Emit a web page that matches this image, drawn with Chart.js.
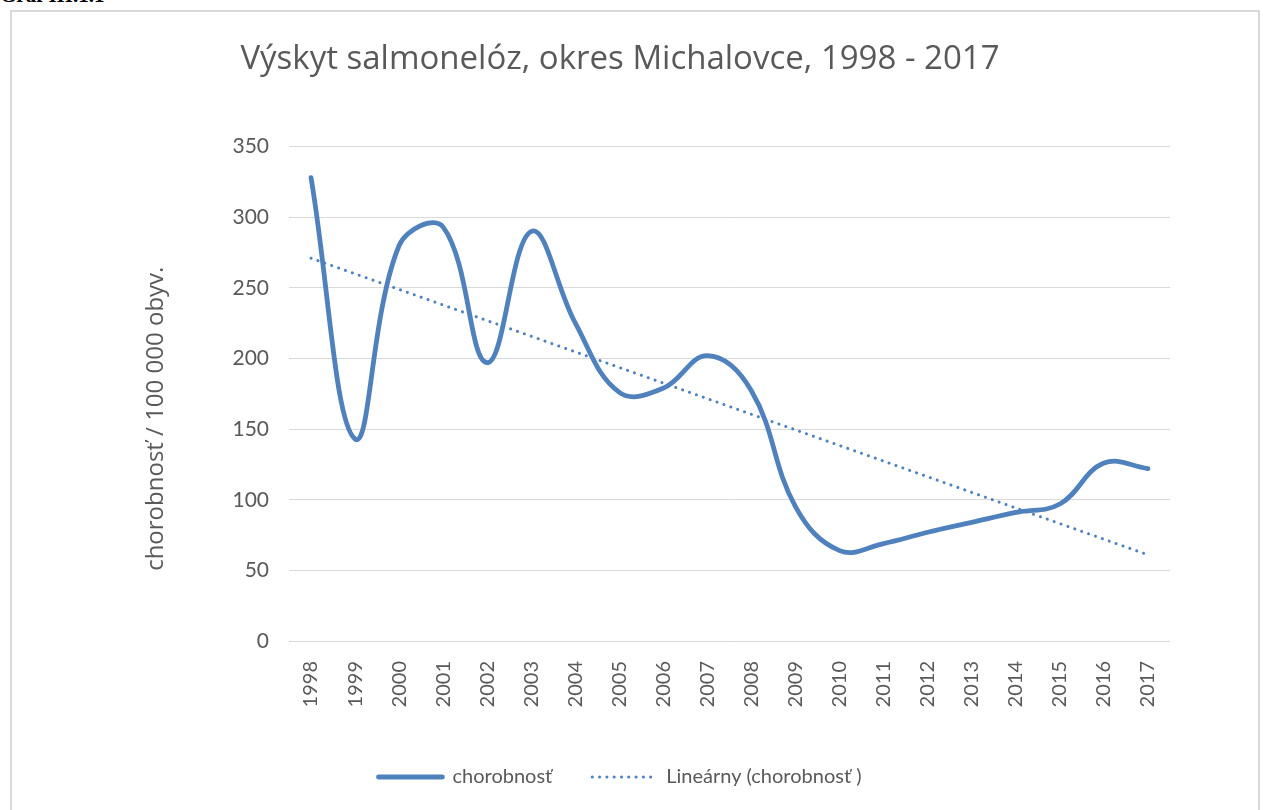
<!DOCTYPE html>
<html>
<head>
<meta charset="utf-8">
<script src="https://cdn.jsdelivr.net/npm/chart.js@4/dist/chart.umd.min.js"></script>
<style>
  html, body { margin: 0; padding: 0; background: #fff; width: 1263px; height: 810px; overflow: hidden; }
  #caption { position: absolute; left: 0; top: -15px; font: bold 21px "Liberation Serif", "Times New Roman", serif; line-height: 1; color: #000; }
  #frame { position: absolute; left: 10px; top: 10px; width: 1250px; height: 820px; border: 2px solid #d9d9d9; box-sizing: border-box; }
  #wrap { position: absolute; left: 11px; top: 11px; width: 1218px; height: 799px; }
</style>
</head>
<body>
<div id="caption">Graf III.1.1</div>
<div id="frame"></div>
<div id="wrap"><canvas id="c"></canvas></div>
<script>
const years = ['1998','1999','2000','2001','2002','2003','2004','2005','2006','2007','2008','2009','2010','2011','2012','2013','2014','2015','2016','2017'];
const chorobnost = [328, 143, 280, 293, 197, 290, 225, 176, 179, 202, 177, 95, 64, 69, 77, 84, 91, 97, 126, 122];
const trend = [271, null, null, null, null, null, null, null, null, null, null, null, null, null, null, null, null, null, null, 61];
const yTicks = [0, 50, 100, 150, 200, 250, 300, 350];
const titleText = 'Výskyt salmonelóz, okres Michalovce, 1998 - 2017';
const yTitle = 'chorobnosť / 100 000 obyv.';
const seriesLabel = 'chorobnosť';
const trendLabel = 'Lineárny (chorobnosť )';

const FONT = 'Lato, "Open Sans", sans-serif';
const WIDE = '"Open Sans", Lato, sans-serif';
const GREY = '#595959';
const BLUE = '#4f81bd';

new Chart(document.getElementById('c'), {
  type: 'line',
  data: {
    labels: years,
    datasets: [
      { label: seriesLabel, data: chorobnost, borderColor: BLUE, backgroundColor: BLUE, borderWidth: 4.8,
        tension: 0.4, pointRadius: 0, pointHoverRadius: 0, pointStyle: 'line', borderCapStyle: 'round', fill: false },
      { label: trendLabel, data: trend, borderColor: BLUE, backgroundColor: BLUE, borderWidth: 3,
        borderDash: [0.1, 7.2], borderCapStyle: 'round', spanGaps: true, tension: 0,
        pointRadius: 0, pointHoverRadius: 0, pointStyle: 'line', fill: false }
    ]
  },
  options: {
    responsive: true,
    maintainAspectRatio: false,
    animation: false,
    layout: { padding: { left: 59, right: 59, top: 0, bottom: 13 } },
    plugins: {
      title: { display: true, text: titleText, color: GREY,
        font: { family: WIDE, size: 33, weight: 'normal' }, padding: { top: 29, bottom: 67 } },
      legend: { position: 'bottom',
        labels: { usePointStyle: true, pointStyleWidth: 64, boxHeight: 20, padding: 40, color: GREY,
          font: { family: FONT, size: 20 },
          generateLabels: (chart) => chart.data.datasets.map((ds, i) => ({
            text: ds.label, fillStyle: ds.borderColor, strokeStyle: ds.borderColor,
            lineWidth: ds.borderWidth, lineDash: ds.borderDash || [], lineCap: ds.borderCapStyle,
            pointStyle: 'line', fontColor: GREY, hidden: false, datasetIndex: i
          })) } },
      tooltip: { enabled: false }
    },
    scales: {
      x: {
        offset: true,
        grid: { display: false },
        border: { display: false },
        ticks: { color: GREY, font: { family: FONT, size: 20 }, minRotation: 90, maxRotation: 90, padding: 12 },
        afterFit: (s) => { s.height = 86; }
      },
      y: {
        min: 0, max: 350,
        afterBuildTicks: (s) => { s.ticks = yTicks.map(v => ({ value: v })); },
        grid: { color: '#d9d9d9', lineWidth: 1, drawTicks: false },
        border: { display: false },
        ticks: { color: GREY, font: { family: FONT, size: 21 }, padding: 20 },
        title: { display: true, text: yTitle + '\u00A0'.repeat(8), color: GREY, font: { family: WIDE, size: 24 }, padding: { top: 72, bottom: 0 } },
        afterFit: (s) => { s.width = 219; }
      }
    }
  }
});
</script>
</body>
</html>
